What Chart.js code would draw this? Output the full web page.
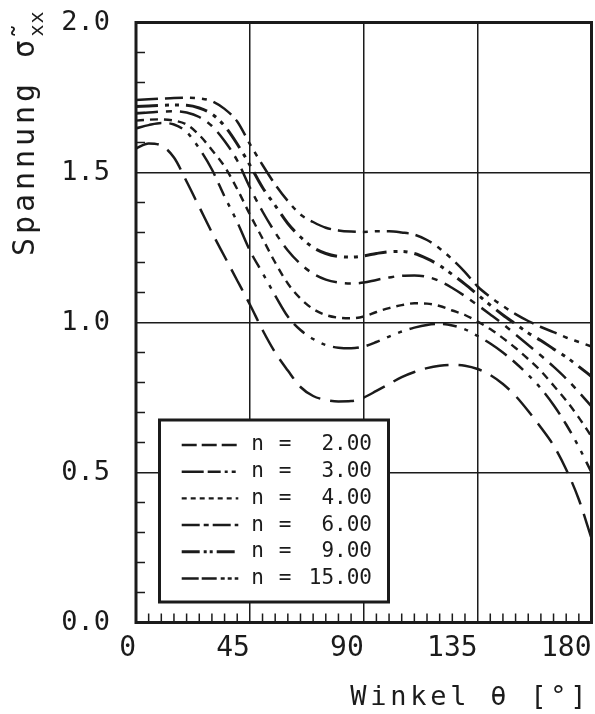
<!DOCTYPE html>
<html><head><meta charset="utf-8">
<script src="https://cdn.jsdelivr.net/npm/chart.js@4.4.1/dist/chart.umd.min.js"></script>
<style>html,body{margin:0;padding:0;background:#fff}#wrap{width:595px;height:714px;position:relative}</style>
</head><body><div id="wrap"><canvas id="c"></canvas></div>
<script>
// ---- data ----
const theta = [0,5,10,15,20,25,30,35,40,45,50,55,60,65,70,75,80,85,90,95,100,105,110,115,120,125,130,135,140,145,150,155,160,165,170,175,180];
const n2  = [1.580,1.597,1.590,1.550,1.470,1.385,1.300,1.220,1.140,1.060,0.975,0.900,0.840,0.785,0.755,0.742,0.737,0.738,0.750,0.772,0.795,0.818,0.835,0.848,0.856,0.859,0.856,0.845,0.825,0.795,0.755,0.705,0.650,0.590,0.510,0.410,0.280];
const n3  = [1.647,1.658,1.665,1.660,1.635,1.580,1.510,1.420,1.335,1.240,1.165,1.090,1.020,0.975,0.945,0.925,0.916,0.914,0.920,0.935,0.953,0.970,0.983,0.992,0.995,0.990,0.977,0.955,0.930,0.900,0.865,0.825,0.780,0.725,0.660,0.585,0.500];
const n4  = [1.673,1.676,1.677,1.673,1.660,1.625,1.575,1.520,1.445,1.360,1.280,1.200,1.130,1.080,1.045,1.025,1.016,1.014,1.020,1.035,1.048,1.058,1.064,1.063,1.055,1.040,1.025,1.003,0.978,0.948,0.915,0.878,0.838,0.790,0.740,0.683,0.620];
const n6  = [1.697,1.700,1.703,1.704,1.700,1.685,1.655,1.605,1.540,1.450,1.370,1.300,1.240,1.195,1.163,1.143,1.133,1.130,1.133,1.142,1.150,1.156,1.157,1.152,1.138,1.115,1.088,1.058,1.027,0.995,0.960,0.925,0.890,0.853,0.813,0.768,0.720];
const n9  = [1.720,1.722,1.724,1.725,1.724,1.715,1.695,1.655,1.595,1.525,1.450,1.390,1.330,1.285,1.250,1.230,1.220,1.218,1.222,1.230,1.236,1.237,1.230,1.213,1.190,1.160,1.128,1.093,1.058,1.025,0.995,0.965,0.940,0.912,0.885,0.853,0.820];
const n15 = [1.742,1.744,1.746,1.748,1.749,1.747,1.738,1.712,1.670,1.595,1.525,1.460,1.405,1.360,1.335,1.316,1.307,1.303,1.302,1.304,1.304,1.300,1.293,1.275,1.247,1.210,1.168,1.120,1.085,1.055,1.028,1.005,0.985,0.968,0.950,0.935,0.920];
const nValues = ['2.00','3.00','4.00','6.00','9.00','15.00'];
const xTicks = [0,45,90,135,180];
const yTicks = [0.0,0.5,1.0,1.5,2.0];
const xTitle = 'Winkel θ [°]';
const yTitleMain = ['S','p','a','n','n','u','n','g',' ','σ\u0303'];
const yTitleSub = 'xx';

// ---- styles ----
const INK = '#1b1b1b';
const FONT = "'DejaVu Sans Mono', 'Liberation Mono', monospace";
const plotDash = [[24,10],[26,8,14,8,4,8,4,8],[8,6],[22,8,6,8],[22,7,4,6,4,7],[22,7,18,7,5,7,5,7]];
const legendDash = [[15,5],[22,4,13,4,3,4,4,4],[5,4],[18,4,5,4],[18,4,3,3,3,4],[17,3,15,4,4,3,4,3]];
const widths = [2.5,2.5,2.4,2.5,3,2.5];
const allSeries = [n2,n3,n4,n6,n9,n15];

const datasets = allSeries.map((arr,k)=>({
  label: 'n = ' + nValues[k],
  data: theta.map((t,i)=>({x:t,y:arr[i]})),
  borderColor: INK, borderWidth: widths[k], borderDash: plotDash[k],
  pointRadius: 0, fill: false, cubicInterpolationMode: 'monotone'
}));

function drawCells(ctx, clusters, x0, y, adv) {
  clusters.forEach((c,i)=>{ ctx.fillText(c, x0 + (i+0.5)*adv, y); });
}

const decor = {
  id: 'decor',
  afterDraw(chart) {
    const ctx = chart.ctx, a = chart.chartArea;
    const xs = chart.scales.x, ys = chart.scales.y;
    ctx.save();
    ctx.strokeStyle = INK; ctx.fillStyle = INK;
    // minor ticks
    ctx.lineWidth = 1.5;
    ctx.beginPath();
    for (let t = 5; t < 180; t += 5) {
      if (t % 45 === 0) continue;
      const px = xs.getPixelForValue(t);
      ctx.moveTo(px, a.bottom); ctx.lineTo(px, a.bottom - 9);
    }
    for (let k = 1; k < 20; k++) {
      if (k % 5 === 0) continue;
      const py = ys.getPixelForValue(k/10);
      ctx.moveTo(a.left, py); ctx.lineTo(a.left + 9, py);
    }
    ctx.stroke();
    // frame
    ctx.lineWidth = 3;
    ctx.strokeRect(a.left, a.top, a.right - a.left, a.bottom - a.top);
    // legend box
    const bx = 159.5, by = 420, bw = 229, bh = 182;
    ctx.fillStyle = '#fff';
    ctx.fillRect(bx, by, bw, bh);
    ctx.strokeStyle = INK; ctx.lineWidth = 3;
    ctx.strokeRect(bx, by, bw, bh);
    ctx.fillStyle = INK;
    ctx.font = "21px " + FONT;
    ctx.textBaseline = 'middle';
    for (let k = 0; k < 6; k++) {
      const ry = by + 25 + k*26.7;
      ctx.save();
      ctx.lineWidth = widths[k];
      ctx.setLineDash(legendDash[k]);
      ctx.beginPath(); ctx.moveTo(181.7, ry); ctx.lineTo(238.3, ry); ctx.stroke();
      ctx.restore();
      ctx.textAlign = 'center';
      ctx.fillText('n', 257.5, ry);
      ctx.fillText('=', 285, ry);
      ctx.textAlign = 'right';
      ctx.fillText(nValues[k], 372, ry);
    }
    // x title
    ctx.font = "27px " + FONT;
    ctx.textAlign = 'center'; ctx.textBaseline = 'alphabetic';
    const xc = Array.from(xTitle);
    drawCells(ctx, xc, 588.5 - xc.length*20, 705, 20);
    // y title
    ctx.save();
    ctx.translate(34, 258);
    ctx.rotate(-Math.PI/2);
    ctx.font = "30px " + FONT;
    drawCells(ctx, yTitleMain, 0, 0, 22);
    ctx.font = "20px " + FONT;
    drawCells(ctx, Array.from(yTitleSub), yTitleMain.length*22 + 1, 9, 13);
    ctx.restore();
    ctx.restore();
  }
};

new Chart(document.getElementById('c'), {
  type: 'line',
  data: { datasets },
  options: {
    responsive: true, maintainAspectRatio: false, animation: false,
    devicePixelRatio: 1,
    layout: { autoPadding: false, padding: { top: 22.5, right: 3.5, left: 0, bottom: 0 } },
    plugins: { legend: { display: false }, tooltip: { enabled: false } },
    scales: {
      x: {
        type: 'linear', min: 0, max: 180,
        afterBuildTicks: s => { s.ticks = xTicks.map(v=>({value:v})); },
        afterFit: s => { s.height = 91.5; },
        ticks: { align: 'end', maxRotation: 0, autoSkip: false, padding: 0, color: INK,
                 font: { family: 'DejaVu Sans Mono', size: 28 }, callback: v => String(v) },
        grid: { color: INK, lineWidth: 1.5, drawTicks: true, tickLength: 9, tickColor: 'rgba(0,0,0,0)' },
        border: { display: false }
      },
      y: {
        type: 'linear', min: 0, max: 2,
        afterBuildTicks: s => { s.ticks = yTicks.map(v=>({value:v})); },
        afterFit: s => { s.width = 136; },
        ticks: { padding: 0, color: INK, font: { family: 'DejaVu Sans Mono', size: 27 },
                 callback: v => Number(v).toFixed(1) },
        grid: { color: INK, lineWidth: 1.5, drawTicks: true, tickLength: 26, tickColor: 'rgba(0,0,0,0)' },
        border: { display: false }
      }
    }
  },
  plugins: [decor]
});
</script></body></html>
